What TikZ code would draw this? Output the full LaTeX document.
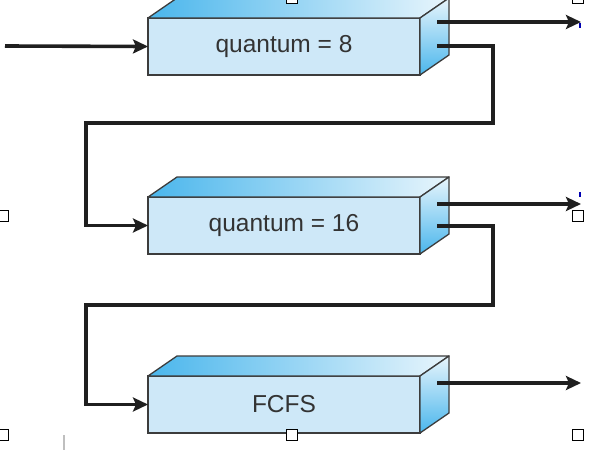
\documentclass[tikz,border=0pt]{standalone}
\usepackage{fontspec}
\setmainfont{Liberation Sans}
\usetikzlibrary{arrows.meta,calc}
\definecolor{frontc}{RGB}{206,232,248}
\definecolor{deepc}{RGB}{74,182,236}
\definecolor{paleC}{RGB}{232,245,252}
\definecolor{edgec}{RGB}{60,60,60}
\definecolor{txtc}{RGB}{51,51,51}
\tikzset{
  front/.style={draw=edgec, line width=1.3pt, fill=frontc, minimum width=272pt,
    minimum height=57pt, inner sep=0pt, outer sep=0pt, anchor=north west,
    font=\fontsize{24.5}{28}\selectfont, text=txtc},
  face/.style={draw=edgec, line width=1.3pt, line join=round},
  conn/.style={line width=3.6pt, draw=black!88, line join=miter},
  arr/.style={conn, -{Stealth[length=15pt,width=14pt,inset=3pt]}},
  handle/.style={draw=black, fill=white, line width=0.9pt, minimum size=11pt, inner sep=0pt}
}
\newcommand{\boxsides}[1]{%
  \shade[left color=deepc, right color=paleC]
    (#1.north west) -- ++(29pt,20pt) -- ($(#1.north east)+(29pt,20pt)$) -- (#1.north east) -- cycle;
  \draw[face] (#1.north west) -- ++(29pt,20pt) -- ($(#1.north east)+(29pt,20pt)$) -- (#1.north east) -- cycle;
  \shade[top color=paleC, bottom color=deepc]
    (#1.north east) -- ++(29pt,20pt) -- ($(#1.south east)+(29pt,20pt)$) -- (#1.south east) -- cycle;
  \draw[face] (#1.north east) -- ++(29pt,20pt) -- ($(#1.south east)+(29pt,20pt)$) -- (#1.south east) -- cycle;
}
\begin{document}
\begin{tikzpicture}[x=1pt,y=-1pt]
\useasboundingbox[fill=white] (0,0) rectangle (608,450);

\node[front] (f1) at (148,18) {quantum = 8};
\node[front] (f2) at (148,197) {quantum = 16};
\node[front] (f3) at (148,376) {FCFS};
\boxsides{f1}
\boxsides{f2}
\boxsides{f3}

% connector anchors
\coordinate (in) at (5,46);
\coordinate (o1a) at (437,22);   \coordinate (e1) at (581,22);
\coordinate (o1b) at (437,46);
\coordinate (k1) at (493,46);  \coordinate (k2) at (493,123);  \coordinate (k3) at (86,123);
\coordinate (o2a) at (437,204);  \coordinate (e2) at (581,204);
\coordinate (o2b) at (437,226);
\coordinate (m1) at (493,226);  \coordinate (m2) at (493,305);  \coordinate (m3) at (86,305);
\coordinate (o3a) at (437,383);  \coordinate (e3) at (581,383);

\draw[arr] (in) -- (f1.west);
\draw[arr] (o1a) -- (e1);
\draw[arr] (o1b) -- (k1) -- (k2) -- (k3) |- (f2.west);
\draw[arr] (o2a) -- (e2);
\draw[arr] (o2b) -- (m1) -- (m2) -- (m3) |- (f3.west);
\draw[arr] (o3a) -- (e3);

% selection handles and marks from the screenshot
\node[handle] (h1) at (292,-2) {};
\node[handle] (h2) at (578,-2) {};
\node[handle] (h3) at (3,216) {};
\node[handle] (h4) at (578,216) {};
\node[handle] (h5) at (3,435) {};
\node[handle] (h6) at (292,435) {};
\node[handle] (h7) at (578,435) {};
\draw[blue!70!black, line width=1.2pt] (580,23) -- (580,28);
\draw[blue!70!black, line width=1.2pt] (580,192) -- (580,197);
\draw[black!25, line width=1.5pt] (64,435) -- (64,450);
\end{tikzpicture}
\end{document}
